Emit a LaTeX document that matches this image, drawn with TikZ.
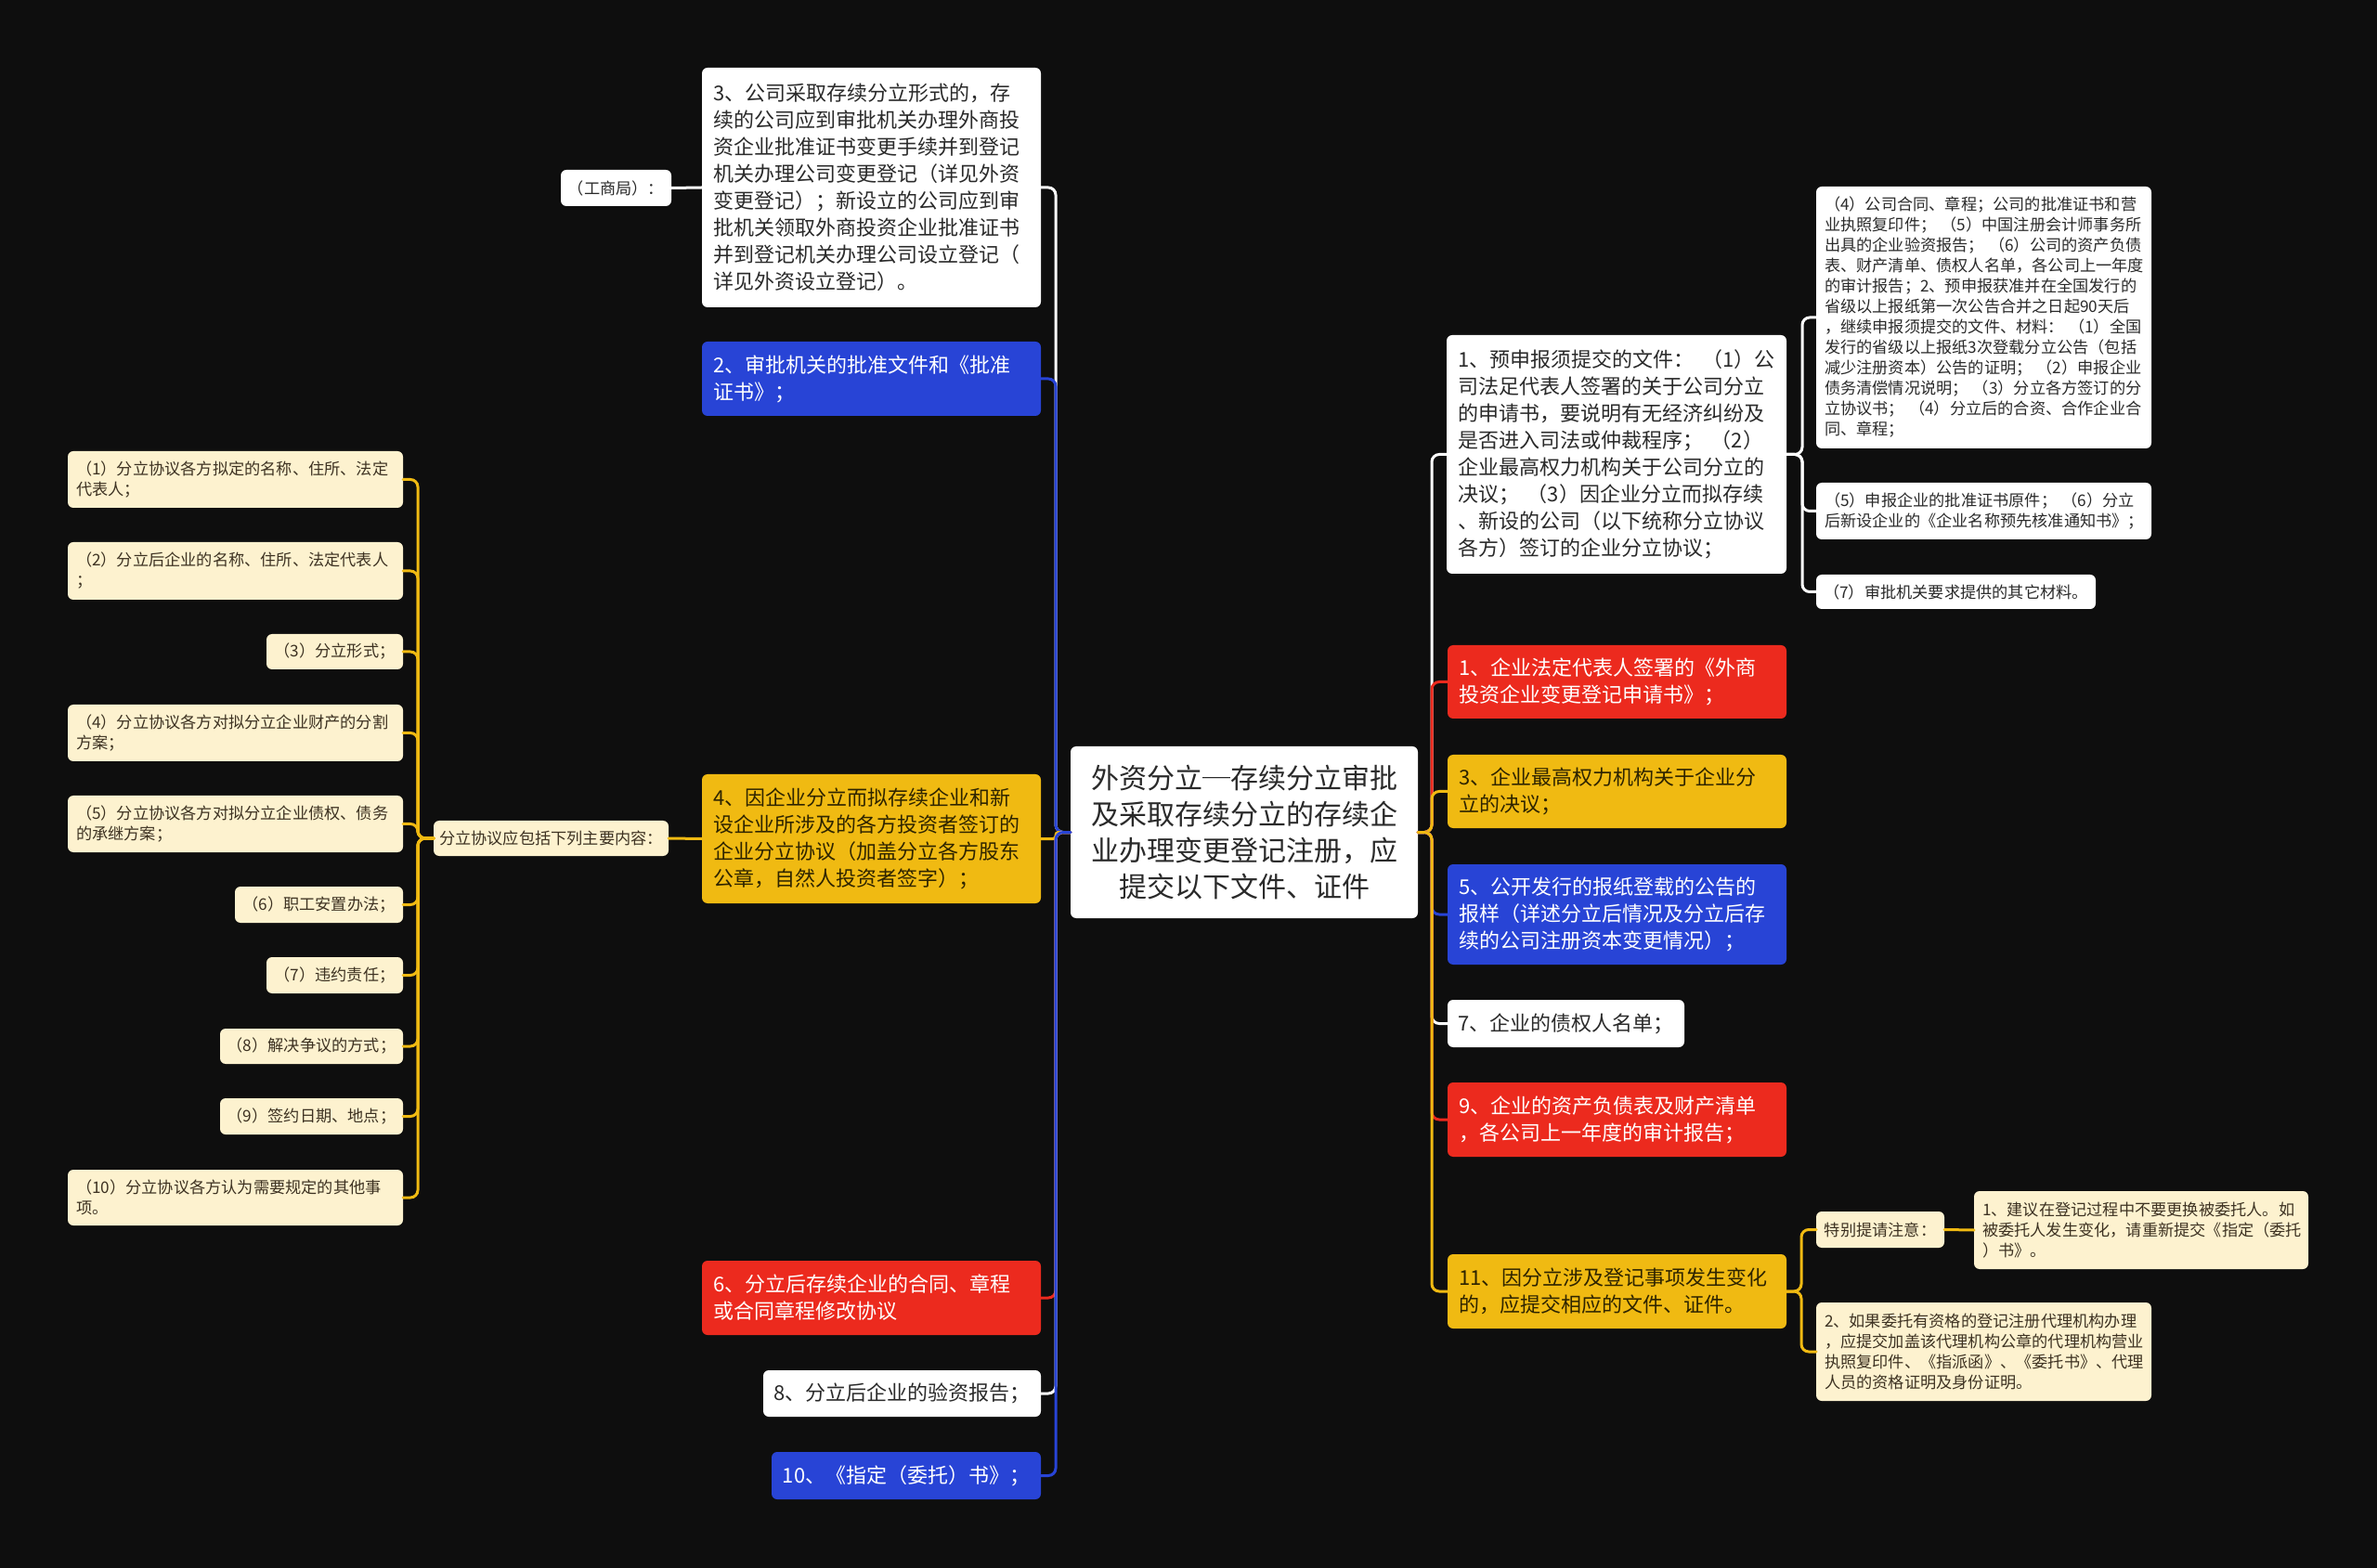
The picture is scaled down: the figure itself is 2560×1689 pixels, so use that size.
\documentclass[tikz,border=0pt]{standalone}
\usepackage{fontspec}
\setmainfont{Noto Sans CJK SC}
\definecolor{bgc}{HTML}{0E0E0E}
\definecolor{cb}{HTML}{2844D6}
\definecolor{cr}{HTML}{EC2A1E}
\definecolor{cy}{HTML}{F0BA12}
\definecolor{cc}{HTML}{FDF2CF}
\definecolor{tdark}{HTML}{2A2A2A}
\definecolor{tyel}{HTML}{2E2400}
\definecolor{tcream}{HTML}{3D3222}
\begin{document}
\begin{tikzpicture}[x=0.5pt,y=-0.5pt,
  box/.style={rounded corners=3pt, anchor=north west, inner ysep=0pt, outer sep=0pt},
  med/.style={box, font=\fontsize{11pt}{14.5pt}\selectfont, inner xsep=6pt, align=left},
  medc/.style={box, font=\fontsize{11pt}{14.5pt}\selectfont, inner xsep=0pt, align=center},
  sml/.style={box, font=\fontsize{8.6pt}{11pt}\selectfont, inner xsep=4.5pt, align=left},
  smlc/.style={box, font=\fontsize{8.6pt}{11pt}\selectfont, inner xsep=0pt, align=center},
  fw/.style={fill=white, text=tdark},
  fb/.style={fill=cb, text=white},
  fr/.style={fill=cr, text=white},
  fy/.style={fill=cy, text=tyel},
  fc/.style={fill=cc, text=tcream},
  conn/.style={line width=1.5pt, rounded corners=4pt, line cap=round},
  lw/.style={conn, draw=white},
  lb/.style={conn, draw=cb},
  lr/.style={conn, draw=cr},
  ly/.style={conn, draw=cy}]
\fill[bgc] (0,0) rectangle (2560,1689);
\useasboundingbox (0,0) rectangle (2560,1689);

% centre
\node[box, fw, font=\fontsize{15pt}{19.5pt}\selectfont, align=center, inner xsep=0pt,
  minimum width=187pt, minimum height=92.5pt] (c) at (1153,804)
  {外资分立─存续分立审批\\及采取存续分立的存续企\\业办理变更登记注册，应\\提交以下文件、证件};

% left branch
\node[med, fw, text width=170.5pt, minimum height=129pt] (n3) at (756,73)
  {3、公司采取存续分立形式的，存\\续的公司应到审批机关办理外商投\\资企业批准证书变更手续并到登记\\机关办理公司变更登记（详见外资\\变更登记）；新设立的公司应到审\\批机关领取外商投资企业批准证书\\并到登记机关办理公司设立登记（\\详见外资设立登记）。};
\node[smlc, fw, minimum width=59.5pt, minimum height=19.5pt] (gsj) at (604,183) {（工商局）：};
\node[med, fb, text width=170.5pt, minimum height=40pt] (n2) at (756,368)
  {2、审批机关的批准文件和《批准\\证书》；};
\node[med, fy, text width=170.5pt, minimum height=69.5pt] (n4) at (756,834)
  {4、因企业分立而拟存续企业和新\\设企业所涉及的各方投资者签订的\\企业分立协议（加盖分立各方股东\\公章，自然人投资者签字）；};
\node[med, fr, text width=170.5pt, minimum height=40pt] (n6) at (756,1358)
  {6、分立后存续企业的合同、章程\\或合同章程修改协议};
\node[medc, fw, minimum width=149.5pt, minimum height=25pt] (n8) at (822,1476) {8、分立后企业的验资报告；};
\node[medc, fb, minimum width=145pt, minimum height=25.5pt] (n10) at (831,1564) {10、《指定（委托）书》；};

\node[smlc, fc, minimum width=126.5pt, minimum height=19pt] (fl) at (467,884) {分立协议应包括下列主要内容：};

\node[sml, fc, text width=171.5pt, minimum height=30.5pt] (L1) at (73,486) {（1）分立协议各方拟定的名称、住所、法定\\代表人；};
\node[sml, fc, text width=171.5pt, minimum height=31pt] (L2) at (73,584) {（2）分立后企业的名称、住所、法定代表人\\；};
\node[smlc, fc, minimum width=73.5pt, minimum height=19pt] (L3) at (287,683) {（3）分立形式；};
\node[sml, fc, text width=171.5pt, minimum height=30.5pt] (L4) at (73,759) {（4）分立协议各方对拟分立企业财产的分割\\方案；};
\node[sml, fc, text width=171.5pt, minimum height=30.5pt] (L5) at (73,857) {（5）分立协议各方对拟分立企业债权、债务\\的承继方案；};
\node[smlc, fc, minimum width=90.5pt, minimum height=19.5pt] (L6) at (253,955) {（6）职工安置办法；};
\node[smlc, fc, minimum width=73.5pt, minimum height=19.5pt] (L7) at (287,1031) {（7）违约责任；};
\node[smlc, fc, minimum width=98.5pt, minimum height=19pt] (L8) at (237,1108) {（8）解决争议的方式；};
\node[smlc, fc, minimum width=98.5pt, minimum height=19.5pt] (L9) at (237,1183) {（9）签约日期、地点；};
\node[sml, fc, text width=171.5pt, minimum height=30pt] (L10) at (73,1260) {（10）分立协议各方认为需要规定的其他事\\项。};

% right branch
\node[med, fw, text width=171pt, minimum height=128.5pt] (R1) at (1558,361)
  {1、预申报须提交的文件：\hspace{0.4em}（1）公\\司法足代表人签署的关于公司分立\\的申请书，要说明有无经济纠纷及\\是否进入司法或仲裁程序；\hspace{0.4em}（2）\\企业最高权力机构关于公司分立的\\决议；\hspace{0.4em}（3）因企业分立而拟存续\\、新设的公司（以下统称分立协议\\各方）签订的企业分立协议；};
\node[sml, fw, text width=171.5pt, minimum height=141pt] (R1a) at (1956,201)
  {（4）公司合同、章程；公司的批准证书和营\\业执照复印件；\hspace{0.3em}（5）中国注册会计师事务所\\出具的企业验资报告；\hspace{0.3em}（6）公司的资产负债\\表、财产清单、债权人名单，各公司上一年度\\的审计报告；2、预申报获准并在全国发行的\\省级以上报纸第一次公告合并之日起90天后\\，继续申报须提交的文件、材料：\hspace{0.3em}（1）全国\\发行的省级以上报纸3次登载分立公告（包括\\减少注册资本）公告的证明；\hspace{0.3em}（2）申报企业\\债务清偿情况说明；\hspace{0.3em}（3）分立各方签订的分\\立协议书；\hspace{0.3em}（4）分立后的合资、合作企业合\\同、章程；};
\node[sml, fw, text width=171.5pt, minimum height=30.5pt] (R1b) at (1956,520)
  {（5）申报企业的批准证书原件；\hspace{0.3em}（6）分立\\后新设企业的《企业名称预先核准通知书》；};
\node[smlc, fw, minimum width=150.5pt, minimum height=18.5pt] (R1c) at (1956,619) {（7）审批机关要求提供的其它材料。};

\node[med, fr, text width=170.5pt, minimum height=39.5pt] (Rr1) at (1559,695)
  {1、企业法定代表人签署的《外商\\投资企业变更登记申请书》；};
\node[med, fy, text width=170.5pt, minimum height=39.5pt] (Ry3) at (1559,813)
  {3、企业最高权力机构关于企业分\\立的决议；};
\node[med, fb, text width=170.5pt, minimum height=54pt] (Rb5) at (1559,931)
  {5、公开发行的报纸登载的公告的\\报样（详述分立后情况及分立后存\\续的公司注册资本变更情况）；};
\node[medc, fw, minimum width=127.5pt, minimum height=25.5pt] (Rw7) at (1559,1077) {7、企业的债权人名单；};
\node[med, fr, text width=170.5pt, minimum height=40pt] (Rr9) at (1559,1166)
  {9、企业的资产负债表及财产清单\\，各公司上一年度的审计报告；};
\node[med, fy, text width=170.5pt, minimum height=40pt] (Ry11) at (1559,1351)
  {11、因分立涉及登记事项发生变化\\的，应提交相应的文件、证件。};

\node[smlc, fc, minimum width=69pt, minimum height=19.5pt] (tb) at (1956,1305) {特别提请注意：};
\node[sml, fc, text width=171pt, minimum height=42pt] (note1) at (2126,1283)
  {1、建议在登记过程中不要更换被委托人。如\\被委托人发生变化，请重新提交《指定（委托\\）书》。};
\node[sml, fc, text width=171.5pt, minimum height=53pt] (note2) at (1956,1403)
  {2、如果委托有资格的登记注册代理机构办理\\，应提交加盖该代理机构公章的代理机构营业\\执照复印件、《指派函》、《委托书》、代理\\人员的资格证明及身份证明。};

% connector trunks
\coordinate (tl) at ([xshift=-8pt]c.west);
\coordinate (tr) at ([xshift=7.5pt]c.east);
\coordinate (ta) at ([xshift=8.5pt]R1.east);
\coordinate (tk) at ([xshift=8pt]Ry11.east);
\coordinate (tf) at ([xshift=-8.5pt]fl.west);

% left connectors
\draw[lw] (c.west) -- (tl) |- (n3.east);
\draw[lb] (c.west) -- (tl) |- (n2.east);
\draw[ly, rounded corners=1.5pt] (c.west) -- (tl) |- (n4.east);
\draw[lr] (c.west) -- (tl) |- (n6.east);
\draw[lw] (c.west) -- (tl) |- (n8.east);
\draw[lb] (c.west) -- (tl) |- (n10.east);
\draw[lw] (n3.west) -- (gsj.east);
\draw[ly] (n4.west) -- (fl.east);
\foreach \n in {L1,L2,L3,L4,L5,L6,L7,L8,L9,L10}
  \draw[ly] (fl.west) -- (tf) |- (\n.east);

% right connectors
\draw[lw] (c.east) -- (tr) |- (R1.west);
\draw[lr] (c.east) -- (tr) |- (Rr1.west);
\draw[ly] (c.east) -- (tr) |- (Ry3.west);
\draw[lb] (c.east) -- (tr) |- (Rb5.west);
\draw[lw] (c.east) -- (tr) |- (Rw7.west);
\draw[lr] (c.east) -- (tr) |- (Rr9.west);
\draw[ly] (c.east) -- (tr) |- (Ry11.west);
\foreach \n in {R1a,R1b,R1c}
  \draw[lw] (R1.east) -- (ta) |- (\n.west);
\draw[ly] (Ry11.east) -- (tk) |- (tb.west);
\draw[ly] (Ry11.east) -- (tk) |- (note2.west);
\draw[ly] (tb.east) -- (note1.west);
\end{tikzpicture}
\end{document}
